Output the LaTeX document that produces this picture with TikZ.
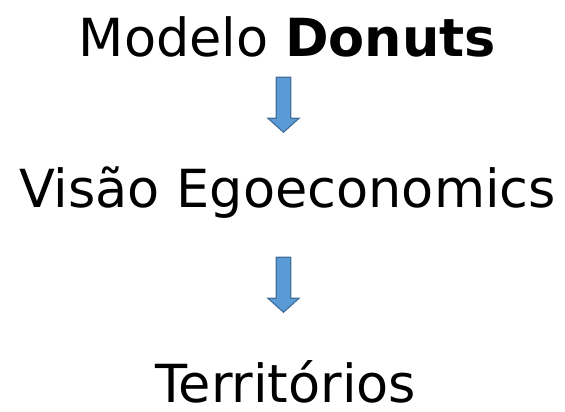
\documentclass[tikz,border=0pt]{standalone}
\usepackage{fontspec}
\setmainfont{DejaVu Sans}
\usetikzlibrary{shapes.arrows}
\definecolor{arrowfill}{HTML}{5B9BD5}
\definecolor{arrowdraw}{HTML}{41719C}
\tikzstyle{every node}=[inner sep=0pt,outer sep=0pt]
\tikzstyle{title}=[anchor=base,font=\fontsize{52.5}{60}\selectfont]
\tikzstyle{downarrow}=[single arrow,shape border rotate=270,fill=arrowfill,draw=arrowdraw,line width=1.2pt,
  inner sep=6.6pt,minimum height=55pt,minimum width=30pt,single arrow head extend=8.4pt,single arrow tip angle=96]

\begin{document}
\begin{tikzpicture}[x=1pt,y=-1pt]
  \useasboundingbox (0,0) rectangle (565,412);
  \node[title] (modelo) at (287.5,57) {Modelo \textbf{Donuts}};
  \node[title] (visao)  at (287.5,207) {Visão Egoeconomics};
  \node[title,text depth=0pt] (terr) at (286,402.5) {Territórios};

  \node[downarrow] (a1) at (283.5,101.5) {};
  \node[downarrow] (a2) at (283.5,281.5) {};
\end{tikzpicture}
\end{document}
